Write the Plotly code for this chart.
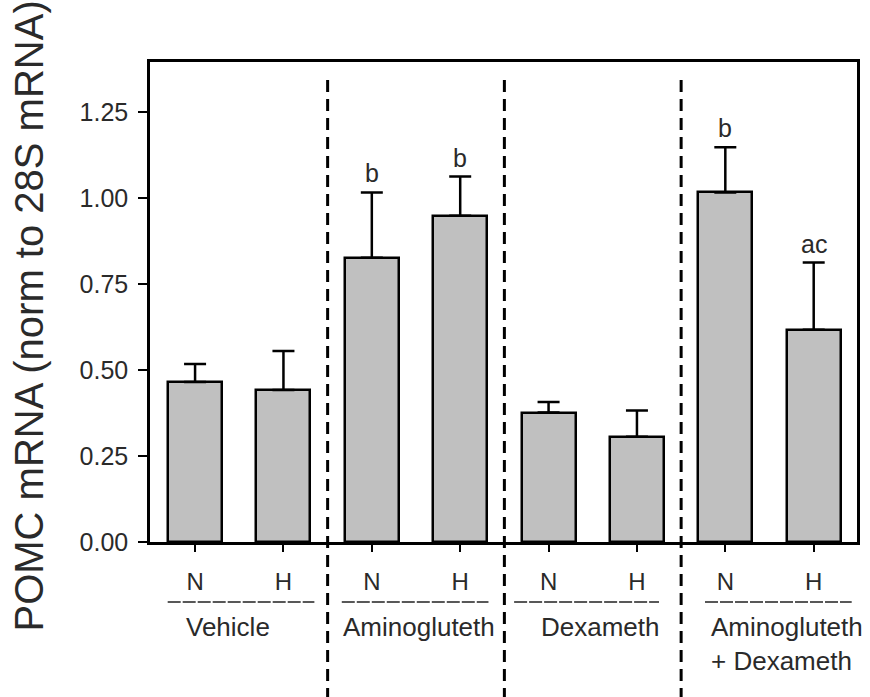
import plotly.graph_objects as go

# ---- data ----
positions = [0, 1, 2, 3, 4, 5, 6, 7]
conditions = ["N", "H", "N", "H", "N", "H", "N", "H"]
groups = ["Vehicle", "Aminogluteth", "Dexameth", "Aminogluteth<br>+ Dexameth"]
means = [0.465, 0.442, 0.826, 0.948, 0.376, 0.306, 1.016, 0.617]
sem = [0.052, 0.113, 0.190, 0.114, 0.031, 0.076, 0.131, 0.195]
letters = ["", "", "b", "b", "", "", "b", "ac"]
y_ticks = [0.0, 0.25, 0.50, 0.75, 1.00, 1.25]
y_tick_labels = ["0.00", "0.25", "0.50", "0.75", "1.00", "1.25"]

FONT = "Arial, Liberation Sans, Helvetica, sans-serif"
TXT = "#2a2a2a"

fig = go.Figure()
fig.add_trace(go.Bar(
    x=positions, y=means, width=0.61,
    marker=dict(color="#c0c0c0", line=dict(color="black", width=2.5)),
    error_y=dict(type="data", array=sem, arrayminus=[0] * len(sem),
                 symmetric=False, color="black", thickness=2.5, width=11),
    showlegend=False, hoverinfo="skip",
))

annotations = []
# significance letters
for xpos, m, s, lab in zip(positions, means, sem, letters):
    if lab:
        annotations.append(dict(x=xpos, y=m + s, xref="x", yref="y", text=lab,
                                showarrow=False, yanchor="bottom", yshift=3,
                                font=dict(family=FONT, size=25, color=TXT)))

# group labels
group_x = [0.37, 2.53, 4.59, 5.81]
group_anchor = ["center", "center", "center", "left"]
for gx, g, anc in zip(group_x, groups, group_anchor):
    annotations.append(dict(x=gx, y=(542 - 610) / 480, xref="x", yref="paper",
                            text=g, showarrow=False, xanchor=anc, yanchor="top",
                            align="left",
                            font=dict(family=FONT, size=26, color=TXT)))

# y-axis title
annotations.append(dict(x=(28 - 150) / 710, y=(542 - 316) / 480, xref="paper",
                        yref="paper", text="POMC mRNA (norm to 28S mRNA)",
                        textangle=-90, showarrow=False, xanchor="center",
                        yanchor="middle",
                        font=dict(family=FONT, size=40, color=TXT)))

shapes = []
# vertical dashed separators
for sep in [1.5, 3.5, 5.5]:
    shapes.append(dict(type="line", xref="x", yref="paper", x0=sep, x1=sep,
                       y0=(542 - 700) / 480, y1=(542 - 73) / 480,
                       line=dict(color="black", width=3, dash="12px,7px")))
# group underlines
under_spans = [(-0.31, 1.35), (1.66, 3.32), (3.61, 5.25), (5.77, 7.43)]
for a, b in under_spans:
    shapes.append(dict(type="line", xref="x", yref="paper", x0=a, x1=b,
                       y0=(542 - 602) / 480, y1=(542 - 602) / 480,
                       line=dict(color="#222", width=1.5, dash="13px,2px")))

fig.update_layout(
    width=870, height=697,
    margin=dict(l=150, r=10, t=62, b=155),
    paper_bgcolor="white", plot_bgcolor="white",
    annotations=annotations, shapes=shapes,
    bargap=0,
    xaxis=dict(range=[-0.51, 7.49], tickvals=positions, ticktext=conditions,
               ticks="outside", ticklen=7, tickwidth=2, tickcolor="black",
               showline=True, linecolor="black", linewidth=2.5, mirror=True,
               showgrid=False, zeroline=False, ticklabelstandoff=9,
               tickfont=dict(family=FONT, size=24, color=TXT)),
    yaxis=dict(range=[0, 1.395], tickvals=y_ticks, ticktext=y_tick_labels,
               ticks="outside", ticklen=9, tickwidth=2, tickcolor="black",
               showline=True, linecolor="black", linewidth=2.5, mirror=True,
               showgrid=False, zeroline=False, ticklabelstandoff=5,
               tickfont=dict(family=FONT, size=25, color=TXT)),
)

fig.write_html(
    "out.html",
    config={"displayModeBar": False},
    post_script="document.body.style.margin='0px';document.body.style.padding='0px';",
)
